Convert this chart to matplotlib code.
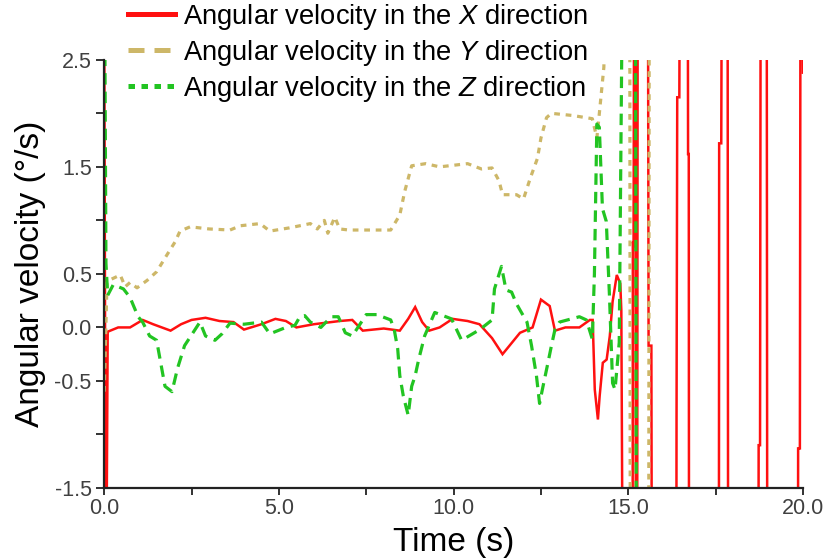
import matplotlib
matplotlib.use("Agg")
import matplotlib.pyplot as plt
from matplotlib.lines import Line2D
import numpy as np

plt.rcParams['font.family'] = ['Liberation Sans', 'DejaVu Sans']
plt.rcParams['mathtext.fontset'] = 'custom'
plt.rcParams['mathtext.rm'] = 'Liberation Sans'
plt.rcParams['mathtext.it'] = 'Liberation Sans:italic'

# angular velocity about X (deg/s); values past the axis limits are off-scale swings
t_x = [0.0, 0.05, 0.1, 0.4, 0.74, 1.1, 1.4, 1.9, 2.2, 2.5, 2.9, 3.3, 3.7, 4.0,
       4.5, 4.9, 5.2, 5.5, 6.0, 6.5, 6.74, 7.1, 7.4, 8.0, 8.46, 8.7, 8.9, 9.1,
       9.3, 9.6, 9.97, 10.4, 10.74, 11.1, 11.4, 11.9, 12.26, 12.5, 12.75, 12.9,
       13.2, 13.6, 13.9, 13.98, 14.04, 14.13, 14.18, 14.27, 14.38, 14.47, 14.55,
       14.67, 14.77, 14.8, 14.86, 15.12, 15.13, 15.15, 15.17, 15.2, 15.22, 15.25,
       15.27, 15.56, 15.58, 15.66, 15.68, 16.37, 16.38, 16.4, 16.46, 16.48,
       16.7, 16.71, 16.73, 16.74, 17.59, 17.6, 17.66, 17.68, 17.84, 17.86,
       18.72, 18.73, 18.77, 18.79, 18.96, 18.98, 19.85, 19.86, 19.91, 19.93,
       19.98, 20.0]
w_x = [3.0, -3.0, -0.04, 0.0, 0.0, 0.07, 0.03, -0.03, 0.03, 0.07, 0.09, 0.06,
       0.05, -0.02, 0.03, 0.08, 0.06, 0.0, 0.03, 0.05, 0.06, 0.07, -0.03, -0.01,
       -0.03, 0.08, 0.19, 0.05, -0.03, 0.0, 0.08, 0.06, 0.03, -0.1, -0.25, -0.05,
       0.0, 0.26, 0.2, -0.03, 0.0, 0.0, 0.07, 0.07, -0.58, -0.86, -0.64, -0.33,
       -0.3, -0.08, 0.24, 0.49, 0.41, 0.16, -4.0, -4.0, 0.8, 0.75, 4.0, 4.0,
       -4.0, -4.0, 4.0, 4.0, -0.17, -0.17, -4.0, -4.0, -0.87, 2.15, 2.15, 4.0,
       4.0, 1.62, 1.62, -4.0, -4.0, 1.72, 1.72, 4.0, 4.0, -4.0, -4.0, -1.1,
       -1.1, 4.0, 4.0, -4.0, -4.0, -1.13, -1.13, 4.0, 4.0, 2.38]

# angular velocity about Y
t_y = [0.0, 0.08, 0.2, 0.46, 0.6, 0.74, 0.94, 1.23, 1.5, 1.8, 2.03, 2.17, 2.46,
       3.0, 3.6, 3.9, 4.46, 4.74, 5.3, 5.9, 6.1, 6.3, 6.4, 6.6, 6.74, 7.0, 8.2,
       8.46, 8.6, 8.8, 9.2, 9.6, 10.4, 10.8, 11.1, 11.3, 11.4, 11.8, 12.0, 12.1,
       12.2, 12.4, 12.5, 12.66, 12.8, 13.4, 13.97, 14.1, 14.15, 14.3, 14.4,
       15.04, 15.06, 15.58, 15.6, 20.0]
w_y = [-0.6, 0.42, 0.45, 0.49, 0.38, 0.42, 0.37, 0.44, 0.52, 0.68, 0.8, 0.9,
       0.94, 0.92, 0.91, 0.95, 0.97, 0.9, 0.93, 0.97, 0.92, 1.0, 0.88, 1.03,
       0.92, 0.91, 0.91, 1.05, 1.27, 1.51, 1.53, 1.5, 1.53, 1.48, 1.49, 1.37,
       1.24, 1.24, 1.2, 1.3, 1.4, 1.58, 1.77, 1.96, 2.0, 1.98, 1.95, 1.77, 1.93,
       2.43, 4.0, 4.0, -4.0, -4.0, 4.0, 4.0]

# angular velocity about Z
t_z = [0.0, 0.05, 0.1, 0.26, 0.55, 0.74, 0.97, 1.1, 1.3, 1.5, 1.6, 1.74, 1.94,
       2.1, 2.3, 2.46, 2.74, 2.9, 3.17, 3.37, 3.6, 4.0, 4.5, 4.74, 5.2, 5.46,
       5.6, 5.74, 5.9, 6.2, 6.5, 6.7, 6.9, 7.1, 7.5, 7.8, 8.2, 8.3, 8.4, 8.46,
       8.56, 8.7, 8.8, 8.9, 9.0, 9.17, 9.46, 9.94, 10.23, 10.75, 11.1, 11.17,
       11.37, 11.5, 11.66, 11.8, 11.94, 12.1, 12.23, 12.37, 12.46, 12.54, 12.7,
       12.8, 12.9, 13.03, 13.6, 13.8, 13.97, 14.03, 14.1, 14.17, 14.26, 14.37,
       14.46, 14.55, 14.62, 14.74, 14.85, 15.2, 15.24, 20.0]
w_z = [4.0, 0.6, 0.3, 0.4, 0.36, 0.28, 0.1, 0.05, -0.08, -0.12, -0.3, -0.55,
       -0.6, -0.38, -0.17, -0.09, 0.05, -0.08, -0.12, -0.06, 0.04, 0.03, 0.05,
       -0.06, 0.0, 0.02, 0.1, 0.11, 0.05, 0.0, 0.1, 0.1, -0.05, -0.08, 0.12,
       0.12, 0.07, -0.02, -0.2, -0.45, -0.64, -0.82, -0.55, -0.45, -0.3, -0.08,
       0.14, 0.08, -0.12, -0.02, 0.07, 0.36, 0.57, 0.35, 0.33, 0.22, 0.14, 0.05,
       -0.17, -0.45, -0.71, -0.58, -0.33, -0.17, -0.02, 0.05, 0.1, 0.07, -0.11,
       0.5, 1.9, 1.87, 1.11, 0.99, 0.3, -0.52, -0.58, -0.14, 4.0, 4.0, -4.0,
       -4.0]

y_ticks = [-1.5, -1.0, -0.5, 0.0, 0.5, 1.0, 1.5, 2.0, 2.5]
y_ticklabels = ['-1.5', '', '-0.5', '0.0', '0.5', '', '1.5', '', '2.5']
x_ticks = [0.0, 5.0, 10.0, 15.0, 20.0]

red = '#ff1010'
tan = '#cdb768'
green = '#22c422'

fig = plt.figure(figsize=(8.27, 5.59), dpi=100)
ax = fig.add_axes([0.126, 0.127, 0.845, 0.766])

ax.plot(t_x, w_x, color=red, lw=1.8, solid_joinstyle='miter')
ax.plot(t_y, w_y, color=tan, lw=2.3, dashes=(1.8, 1.8))
ax.plot(t_z, w_z, color=green, lw=2.3, dashes=(3.6, 2.2))

ax.set_xlim(0, 20)
ax.set_ylim(-1.5, 2.5)
ax.set_xticks(x_ticks)
ax.set_xticklabels(['%.1f' % v for v in x_ticks])
ax.set_xticks([2.5, 7.5, 12.5, 17.5], minor=True)
ax.set_yticks(y_ticks)
ax.set_yticklabels(y_ticklabels)

for side in ['top', 'right']:
    ax.spines[side].set_visible(False)
for side in ['left', 'bottom']:
    ax.spines[side].set_linewidth(1.6)
    ax.spines[side].set_color('#222222')

ax.tick_params(axis='both', which='both', direction='out', width=1.3,
               color='#222222', labelcolor='#404040', labelsize=15.5)
ax.tick_params(axis='y', which='major', length=6, pad=3)
ax.tick_params(axis='x', which='both', length=5, pad=2)

ax.set_xlabel('Time (s)', fontsize=24, labelpad=6)
ax.set_ylabel('Angular velocity (°/s)', fontsize=24, labelpad=6)

handles = [
    Line2D([], [], color=red, lw=3.6),
    Line2D([], [], color=tan, lw=3.6, dashes=(3.2, 2.0)),
    Line2D([], [], color=green, lw=3.6, dashes=(1.3, 1.3)),
]
labels = [
    r'Angular velocity in the $\mathit{X}$ direction',
    r'Angular velocity in the $\mathit{Y}$ direction',
    r'Angular velocity in the $\mathit{Z}$ direction',
]
ax.legend(handles, labels, loc='upper left', bbox_to_anchor=(0.155, 0.997),
          bbox_transform=fig.transFigure, frameon=False, fontsize=19.7,
          handlelength=1.72, handletextpad=0.3, labelspacing=0.22,
          borderpad=0, borderaxespad=0)

fig.savefig('out.png', dpi=100)
